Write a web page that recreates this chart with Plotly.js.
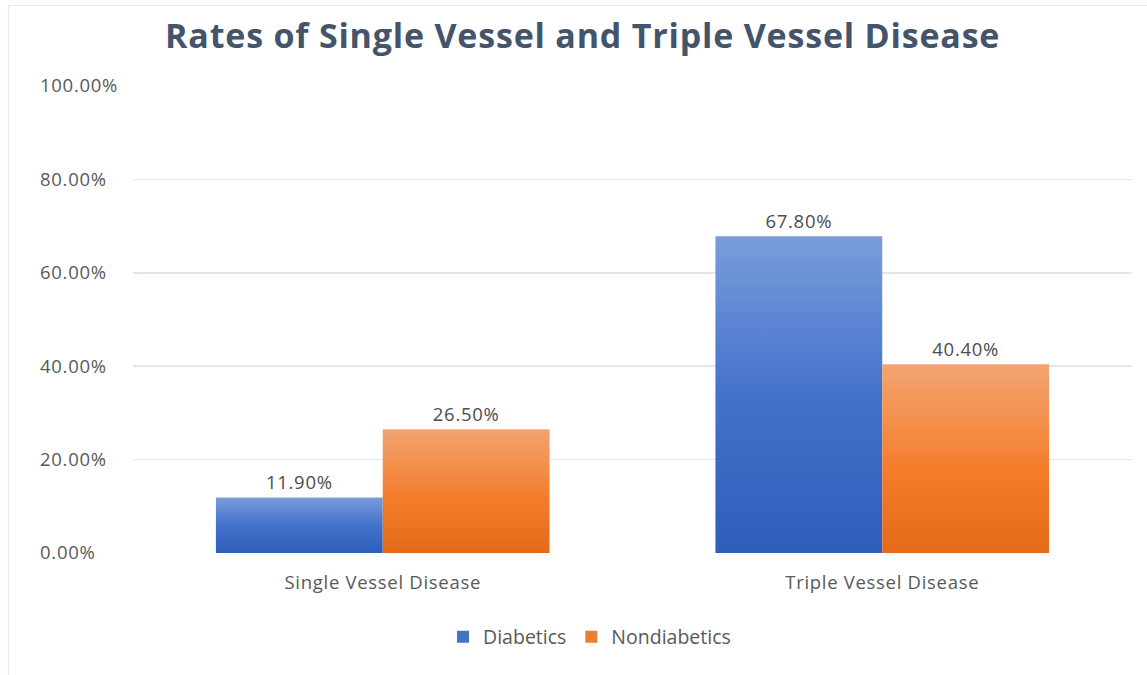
<!DOCTYPE html>
<html>
<head>
<meta charset="utf-8">
<script src="https://cdn.plot.ly/plotly-3.0.1.min.js"></script>
<style>
  html, body { margin: 0; padding: 0; background: #ffffff; }
  #frame { position: absolute; left: 8px; top: 5px; width: 1140px; height: 675px;
           border-left: 1.5px solid #E6E8EE; border-top: 1.5px solid #E6E8EE; box-sizing: border-box; }
  #chart { position: absolute; left: 0; top: 0; width: 1147px; height: 675px; }
  #chart .xtick text, #chart .ytick text, #chart .bartext { letter-spacing: 0.7px; }
  #chart .gtitle { letter-spacing: 0.8px; }
</style>
</head>
<body>
<div id="frame"></div>
<div id="chart"></div>
<script>
const categories = ["Single Vessel Disease", "Triple Vessel Disease"];
const diabetics = [0.119, 0.678];
const nondiabetics = [0.265, 0.404];
const seriesNames = ["Diabetics", "Nondiabetics"];
const tickValues = [0, 0.2, 0.4, 0.6, 0.8, 1.0];

const labelFont = { family: "Open Sans, sans-serif", size: 18.5, color: "#595959" };

const traces = [
  { type: "bar", name: seriesNames[0], x: categories, y: diabetics,
    marker: { color: "#4472C4" },
    texttemplate: "%{y:.2%}", textposition: "outside", cliponaxis: false,
    textfont: { family: "Open Sans, sans-serif", size: 18.5, color: "#4d4d4d" },
    hoverinfo: "skip" },
  { type: "bar", name: seriesNames[1], x: categories, y: nondiabetics,
    marker: { color: "#ED7D31" },
    texttemplate: "%{y:.2%}", textposition: "outside", cliponaxis: false,
    textfont: { family: "Open Sans, sans-serif", size: 18.5, color: "#4d4d4d" },
    hoverinfo: "skip" }
];

const layout = {
  width: 1147, height: 675,
  paper_bgcolor: "rgba(0,0,0,0)", plot_bgcolor: "rgba(0,0,0,0)",
  margin: { l: 133, r: 15, t: 86, b: 122 },
  title: { text: "<b>Rates of Single Vessel and Triple Vessel Disease</b>",
           font: { family: "Open Sans, sans-serif", size: 34, color: "#44546A" },
           x: 0.508, xanchor: "center", y: 0.947, yanchor: "middle" },
  barmode: "group", bargap: 0.332, bargroupgap: 0,
  xaxis: { showgrid: false, showline: false, zeroline: false, ticks: "",
           tickfont: labelFont, ticklabelstandoff: 16 },
  yaxis: { range: [0, 1], tickvals: tickValues, tickformat: ".2%",
           showgrid: true, gridcolor: "#E3E6EC", gridwidth: 1.5,
           zeroline: false, showline: false, ticks: "",
           tickfont: labelFont, ticklabelstandoff: 14 },
  showlegend: true,
  legend: { orientation: "h", x: 0.457, xanchor: "center", y: -0.18, yanchor: "middle",
            font: { family: "Open Sans, sans-serif", size: 19.5, color: "#595959" },
            itemwidth: 30, tracegroupgap: 0 }
};

Plotly.newPlot("chart", traces, layout, { displayModeBar: false, staticPlot: true }).then(function (gd) {
  const NS = "http://www.w3.org/2000/svg";
  const svg = gd.querySelector("svg.main-svg");
  let defs = svg.querySelector("defs");
  if (!defs) { defs = document.createElementNS(NS, "defs"); svg.insertBefore(defs, svg.firstChild); }
  const grads = [
    { id: "gradBlue", stops: [["0%", "#7A9DDA"], ["50%", "#4372CB"], ["100%", "#2D5EBA"]] },
    { id: "gradOrange", stops: [["0%", "#F3A471"], ["55%", "#F47D2C"], ["100%", "#E36A19"]] }
  ];
  grads.forEach(function (g) {
    const lg = document.createElementNS(NS, "linearGradient");
    lg.setAttribute("id", g.id);
    lg.setAttribute("x1", "0"); lg.setAttribute("y1", "0");
    lg.setAttribute("x2", "0"); lg.setAttribute("y2", "1");
    g.stops.forEach(function (s) {
      const st = document.createElementNS(NS, "stop");
      st.setAttribute("offset", s[0]);
      st.setAttribute("stop-color", s[1]);
      lg.appendChild(st);
    });
    defs.appendChild(lg);
  });
  gd.querySelectorAll(".barlayer .trace").forEach(function (tg, i) {
    tg.querySelectorAll(".point path").forEach(function (p) {
      p.style.fill = "url(#" + grads[i].id + ")";
    });
  });
  // left-align the y tick labels like the original spreadsheet chart
  const yt = Array.from(gd.querySelectorAll(".ytick text"));
  const widths = yt.map(function (t) { return t.getBBox().width; });
  const maxW = Math.max.apply(null, widths);
  yt.forEach(function (t, i) {
    const x = parseFloat(t.getAttribute("x")) || 0;
    t.setAttribute("x", x - (maxW - widths[i]));
  });
});
</script>
</body>
</html>
